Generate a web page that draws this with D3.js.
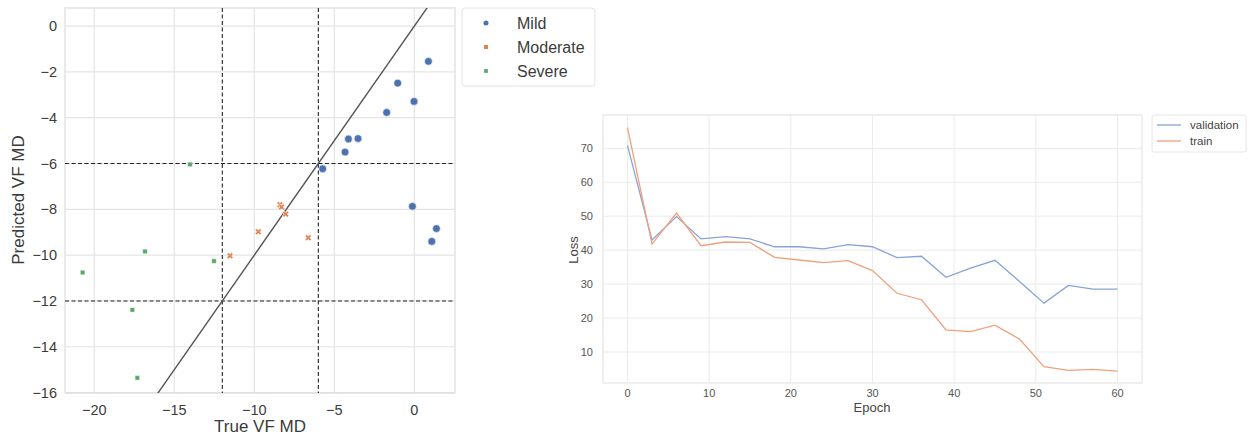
<!DOCTYPE html>
<html>
<head>
<meta charset="utf-8">
<script src="https://cdn.jsdelivr.net/npm/d3@7"></script>
<style>
  body { margin: 0; background: #fff; }
  svg { display: block; font-family: "Liberation Sans", Arial, sans-serif; }
</style>
</head>
<body>
<svg id="chart" width="1252" height="439"></svg>
<script>
// scatter data: true vs predicted VF MD
const mildTrue = [0.88, -1.04, -0.02, -1.73, -4.12, -3.52, -4.33, -5.73, -0.12, 1.38, 1.09];
const mildPred = [-1.54, -2.49, -3.29, -3.77, -4.93, -4.91, -5.50, -6.23, -7.87, -8.84, -9.40];
const modTrue = [-8.4, -8.3, -8.04, -9.75, -6.63, -11.52];
const modPred = [-7.8, -7.9, -8.21, -8.98, -9.24, -10.03];
const sevTrue = [-14.02, -16.83, -12.52, -20.73, -17.62, -17.31];
const sevPred = [-6.04, -9.84, -10.26, -10.76, -12.39, -15.36];
const groups = ["Mild", "Moderate", "Severe"];
const thresholds = [-12, -6];
const xTicksL = [-20, -15, -10, -5, 0];
const yTicksL = [0, -2, -4, -6, -8, -10, -12, -14, -16];

// loss curves
const epochs = [0, 3, 6, 9, 12, 15, 18, 21, 24, 27, 30, 33, 36, 39, 42, 45, 48, 51, 54, 57, 60];
const validation = [70.8, 43.0, 49.9, 43.3, 44.0, 43.3, 41.0, 41.0, 40.4, 41.6, 41.0, 37.8, 38.2, 32.0, 34.7, 37.0, 30.8, 24.4, 29.6, 28.5, 28.5];
const train = [76.1, 41.8, 50.9, 41.3, 42.4, 42.3, 37.9, 37.1, 36.3, 36.9, 34.0, 27.3, 25.4, 16.5, 16.0, 17.9, 13.8, 5.7, 4.6, 4.9, 4.4];
const xTicksR = [0, 10, 20, 30, 40, 50, 60];
const yTicksR = [10, 20, 30, 40, 50, 60, 70];

const colors = {Mild: "#4c72b0", Moderate: "#dd8452", Severe: "#55a868"};
const textCol = "#3b3b3b";
const gridCol = "#e4e4e4";
const svg = d3.select("#chart");

// ---------- left: scatter ----------
const L = {left: 65, right: 455, top: 8, bottom: 393};
const x1 = d3.scaleLinear().domain([-21.83, 2.54]).range([L.left, L.right]);
const y1 = d3.scaleLinear().domain([-16.02, 0.79]).range([L.bottom, L.top]);

const g1 = svg.append("g");
g1.selectAll(".gx").data(xTicksL).join("line")
    .attr("x1", d => x1(d)).attr("x2", d => x1(d))
    .attr("y1", L.top).attr("y2", L.bottom)
    .attr("stroke", gridCol).attr("stroke-width", 1.2);
g1.selectAll(".gy").data(yTicksL).join("line")
    .attr("y1", d => y1(d)).attr("y2", d => y1(d))
    .attr("x1", L.left).attr("x2", L.right)
    .attr("stroke", gridCol).attr("stroke-width", 1.2);
g1.append("rect")
    .attr("x", L.left).attr("y", L.top)
    .attr("width", L.right - L.left).attr("height", L.bottom - L.top)
    .attr("fill", "none").attr("stroke", "#dcdcdc").attr("stroke-width", 1.2);

g1.selectAll(".xt").data(xTicksL).join("text")
    .attr("x", d => x1(d)).attr("y", 415)
    .attr("text-anchor", "middle").attr("font-size", 14.5).attr("fill", textCol)
    .text(d => String(d).replace("-", "\u2212"));
g1.selectAll(".yt").data(yTicksL).join("text")
    .attr("x", 57).attr("y", d => y1(d) + 5)
    .attr("text-anchor", "end").attr("font-size", 14.5).attr("fill", textCol)
    .text(d => String(d).replace("-", "\u2212"));

g1.append("text").attr("x", 260).attr("y", 432)
    .attr("text-anchor", "middle").attr("font-size", 17).attr("fill", textCol)
    .text("True VF MD");
g1.append("text").attr("transform", "translate(24,200) rotate(-90)")
    .attr("text-anchor", "middle").attr("font-size", 17).attr("fill", textCol)
    .text("Predicted VF MD");

// threshold lines
g1.append("clipPath").attr("id", "clipL").append("rect")
    .attr("x", L.left).attr("y", L.top).attr("width", L.right - L.left).attr("height", L.bottom - L.top);
const inner = g1.append("g").attr("clip-path", "url(#clipL)");
inner.selectAll(".vt").data(thresholds).join("line")
    .attr("x1", d => x1(d)).attr("x2", d => x1(d))
    .attr("y1", L.top).attr("y2", L.bottom)
    .attr("stroke", "#222").attr("stroke-width", 1.1).attr("stroke-dasharray", "4,2.5");
inner.selectAll(".ht").data(thresholds).join("line")
    .attr("y1", d => y1(d)).attr("y2", d => y1(d))
    .attr("x1", L.left).attr("x2", L.right)
    .attr("stroke", "#222").attr("stroke-width", 1.1).attr("stroke-dasharray", "4,2.5");
// identity line
inner.append("line")
    .attr("x1", x1(-17)).attr("y1", y1(-17))
    .attr("x2", x1(1)).attr("y2", y1(1))
    .attr("stroke", "#555").attr("stroke-width", 1.4);

const pts = [];
mildTrue.forEach((v, i) => pts.push({g: "Mild", x: v, y: mildPred[i]}));
modTrue.forEach((v, i) => pts.push({g: "Moderate", x: v, y: modPred[i]}));
sevTrue.forEach((v, i) => pts.push({g: "Severe", x: v, y: sevPred[i]}));

const sym = {
  Mild: d3.symbol().type(d3.symbolCircle).size(48),
  Moderate: d3.symbol().type(d3.symbolCross).size(26),
  Severe: d3.symbol().type(d3.symbolSquare).size(20)
};
inner.selectAll(".pt").data(pts).join("path")
    .attr("d", d => sym[d.g]())
    .attr("transform", d => `translate(${x1(d.x)},${y1(d.y)})` + (d.g === "Moderate" ? " rotate(45)" : ""))
    .attr("fill", d => colors[d.g])
    .attr("stroke", "#fff").attr("stroke-width", d => d.g === "Severe" ? 0.4 : 0.6);

// legend
const lg = svg.append("g").attr("transform", "translate(462,8)");
lg.append("rect").attr("width", 133).attr("height", 78).attr("rx", 3)
    .attr("fill", "#fff").attr("stroke", "#e2e2e2");
const legSym = {
  Mild: d3.symbol().type(d3.symbolCircle).size(20),
  Moderate: d3.symbol().type(d3.symbolSquare).size(16),
  Severe: d3.symbol().type(d3.symbolSquare).size(14)
};
groups.forEach((gname, i) => {
  lg.append("path").attr("d", legSym[gname]())
      .attr("transform", `translate(24,${15 + i * 24})`)
      .attr("fill", colors[gname]);
  lg.append("text").attr("x", 55).attr("y", 21 + i * 24)
      .attr("font-size", 16).attr("fill", textCol).text(gname);
});

// ---------- right: loss curves ----------
const R = {left: 603, right: 1142, top: 115, bottom: 383};
const x2 = d3.scaleLinear().domain([-3.0, 63.0]).range([R.left, R.right]);
const y2 = d3.scaleLinear().domain([0.88, 79.8]).range([R.bottom, R.top]);
const g2 = svg.append("g");
g2.selectAll(".gx").data(xTicksR).join("line")
    .attr("x1", d => x2(d)).attr("x2", d => x2(d))
    .attr("y1", R.top).attr("y2", R.bottom)
    .attr("stroke", "#ebebeb").attr("stroke-width", 1);
g2.selectAll(".gy").data(yTicksR).join("line")
    .attr("y1", d => y2(d)).attr("y2", d => y2(d))
    .attr("x1", R.left).attr("x2", R.right)
    .attr("stroke", "#ebebeb").attr("stroke-width", 1);
g2.append("rect")
    .attr("x", R.left).attr("y", R.top)
    .attr("width", R.right - R.left).attr("height", R.bottom - R.top)
    .attr("fill", "none").attr("stroke", "#e0e0e0").attr("stroke-width", 1);

g2.selectAll(".xt").data(xTicksR).join("text")
    .attr("x", d => x2(d)).attr("y", 397)
    .attr("text-anchor", "middle").attr("font-size", 11).attr("fill", "#555")
    .text(d => d);
g2.selectAll(".yt").data(yTicksR).join("text")
    .attr("x", 593).attr("y", d => y2(d) + 4)
    .attr("text-anchor", "end").attr("font-size", 11).attr("fill", "#555")
    .text(d => d);
g2.append("text").attr("x", 872).attr("y", 412)
    .attr("text-anchor", "middle").attr("font-size", 13).attr("fill", "#444")
    .text("Epoch");
g2.append("text").attr("transform", "translate(578,250) rotate(-90)")
    .attr("text-anchor", "middle").attr("font-size", 13).attr("fill", "#444")
    .text("Loss");

const line = d3.line().x(d => x2(d[0])).y(d => y2(d[1]));
const series = [
  {name: "validation", vals: validation, color: "#86a4d6"},
  {name: "train", vals: train, color: "#f0a07a"}
];
series.forEach(s => {
  g2.append("path")
      .datum(epochs.map((e, i) => [e, s.vals[i]]))
      .attr("d", line)
      .attr("fill", "none").attr("stroke", s.color).attr("stroke-width", 1.3);
});

const lg2 = svg.append("g").attr("transform", "translate(1152,115)");
lg2.append("rect").attr("width", 94).attr("height", 37).attr("rx", 2)
    .attr("fill", "#fff").attr("stroke", "#e6e6e6");
series.forEach((s, i) => {
  lg2.append("line").attr("x1", 5).attr("x2", 29)
      .attr("y1", 10 + i * 16).attr("y2", 10 + i * 16)
      .attr("stroke", s.color).attr("stroke-width", 1.3);
  lg2.append("text").attr("x", 38).attr("y", 14 + i * 16)
      .attr("font-size", 11.5).attr("fill", "#444").text(s.name);
});
</script>
</body>
</html>
